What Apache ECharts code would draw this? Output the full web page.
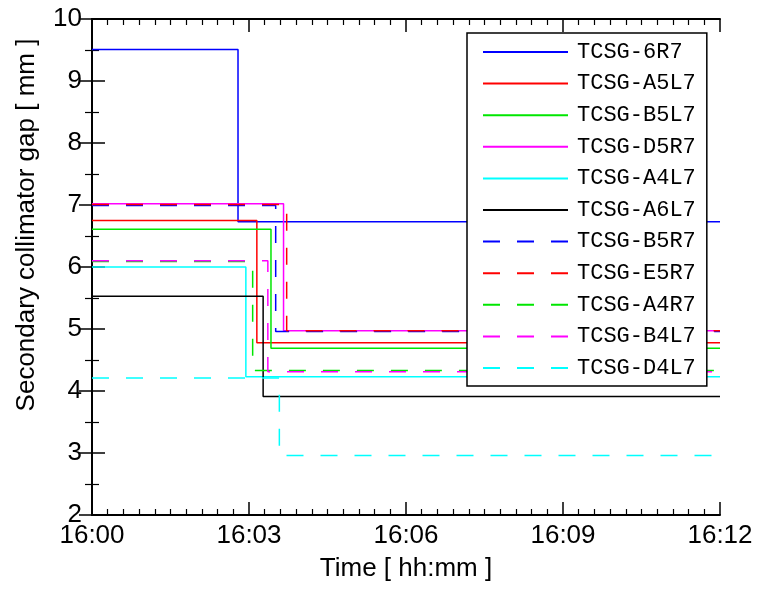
<!DOCTYPE html>
<html>
<head>
<meta charset="utf-8">
<script src="https://cdn.jsdelivr.net/npm/echarts@6/dist/echarts.min.js"></script>
<style>
  html, body { margin: 0; padding: 0; background: #fff; }
  #chart { width: 759px; height: 589px; }
</style>
</head>
<body>
<div id="chart"></div>
<script>
// collimator names, in legend order
var names = ["TCSG-6R7", "TCSG-A5L7", "TCSG-B5L7", "TCSG-D5R7", "TCSG-A4L7", "TCSG-A6L7",
             "TCSG-B5R7", "TCSG-E5R7", "TCSG-A4R7", "TCSG-B4L7", "TCSG-D4L7"];
// minutes after 16:00 at which each gap was moved
var moveTime = [2.79, 3.15, 3.42, 3.66, 2.94, 3.27, 3.51, 3.72, 3.07, 3.36, 3.58];
// gap before and after the move [mm]
var gapBefore = [9.51, 6.75, 6.61, 7.02, 6.00, 5.53, 6.99, 7.01, 6.09, 6.10, 4.21];
var gapAfter = [6.73, 4.78, 4.69, 4.97, 4.23, 3.91, 4.96, 4.97, 4.33, 4.31, 2.96];
var endTime = 12;
var xTicks = ["16:00", "16:03", "16:06", "16:09", "16:12"];
var yTicks = [2, 3, 4, 5, 6, 7, 8, 9, 10];

var colors = ["#0000ff", "#ff0000", "#00e600", "#ff00ff", "#00ffff", "#000000",
              "#0000ff", "#ff0000", "#00e600", "#ff00ff", "#00ffff"];

var series = names.map(function (name, i) {
  return {
    name: name,
    type: "line",
    step: "end",
    symbol: "none",
    xAxisIndex: 0,
    yAxisIndex: 0,
    lineStyle: { color: colors[i], width: 1.5, type: i < 6 ? "solid" : [17, 17] },
    itemStyle: { color: colors[i] },
    data: [[0, gapBefore[i]], [moveTime[i], gapAfter[i]], [endTime, gapAfter[i]]],
    animation: false
  };
});

var axisFont = { fontFamily: "Liberation Sans", fontSize: 26, color: "#000" };

var ec = echarts.init(document.getElementById("chart"));
ec.setOption({
  animation: false,
  grid: { left: 92, right: 39, top: 19, bottom: 74 },
  legend: {
    orient: "vertical",
    left: 467,
    top: 33,
    padding: [8, 11, 7, 15],
    borderColor: "#000",
    borderWidth: 1.5,
    backgroundColor: "#fff",
    itemWidth: 85,
    itemHeight: 14,
    itemGap: 9.6,
    itemStyle: { opacity: 0 },
    textStyle: { fontFamily: "Liberation Mono", fontSize: 22, color: "#000", lineHeight: 14, padding: [0, 0, 0, 4] },
    data: names
  },
  xAxis: [
    {
      type: "value", min: 0, max: 12, interval: 3,
      name: "Time [ hh:mm ]", nameLocation: "middle", nameGap: 41,
      nameTextStyle: axisFont,
      axisLine: { lineStyle: { color: "#000", width: 2 } },
      axisTick: { inside: true, length: 13, lineStyle: { width: 1.5 } },
      minorTick: { show: true, splitNumber: 10, length: 6, lineStyle: { color: "#000", width: 1.2 } },
      axisLabel: Object.assign({ margin: 8, formatter: function (v) { return xTicks[Math.round(v / 3)]; } }, axisFont),
      splitLine: { show: false }
    },
    {
      type: "value", min: 0, max: 12, interval: 3, position: "top",
      axisLine: { lineStyle: { color: "#000", width: 2 } },
      axisTick: { inside: true, length: 13, lineStyle: { width: 1.5 } },
      minorTick: { show: true, splitNumber: 10, length: 6, lineStyle: { color: "#000", width: 1.2 } },
      axisLabel: { show: false },
      splitLine: { show: false }
    }
  ],
  yAxis: [
    {
      type: "value", min: yTicks[0], max: yTicks[yTicks.length - 1], interval: 1,
      name: "Secondary collimator gap [ mm ]", nameLocation: "middle", nameGap: 52,
      nameTextStyle: Object.assign({ padding: [0, 0, 0, 84] }, axisFont),
      axisLine: { lineStyle: { color: "#000", width: 2 } },
      axisTick: { inside: true, length: 13, lineStyle: { width: 1.5 } },
      minorTick: { show: true, splitNumber: 2, length: 7, lineStyle: { color: "#000", width: 1.2 } },
      axisLabel: Object.assign({ margin: 10 }, axisFont),
      splitLine: { show: false }
    },
    {
      type: "value", min: 2, max: 10, interval: 1, position: "right",
      axisLine: { lineStyle: { color: "#000", width: 2 } },
      axisTick: { inside: true, length: 13, lineStyle: { width: 1.5 } },
      minorTick: { show: true, splitNumber: 2, length: 7, lineStyle: { color: "#000", width: 1.2 } },
      axisLabel: { show: false },
      splitLine: { show: false }
    }
  ],
  series: series
});
</script>
</body>
</html>
